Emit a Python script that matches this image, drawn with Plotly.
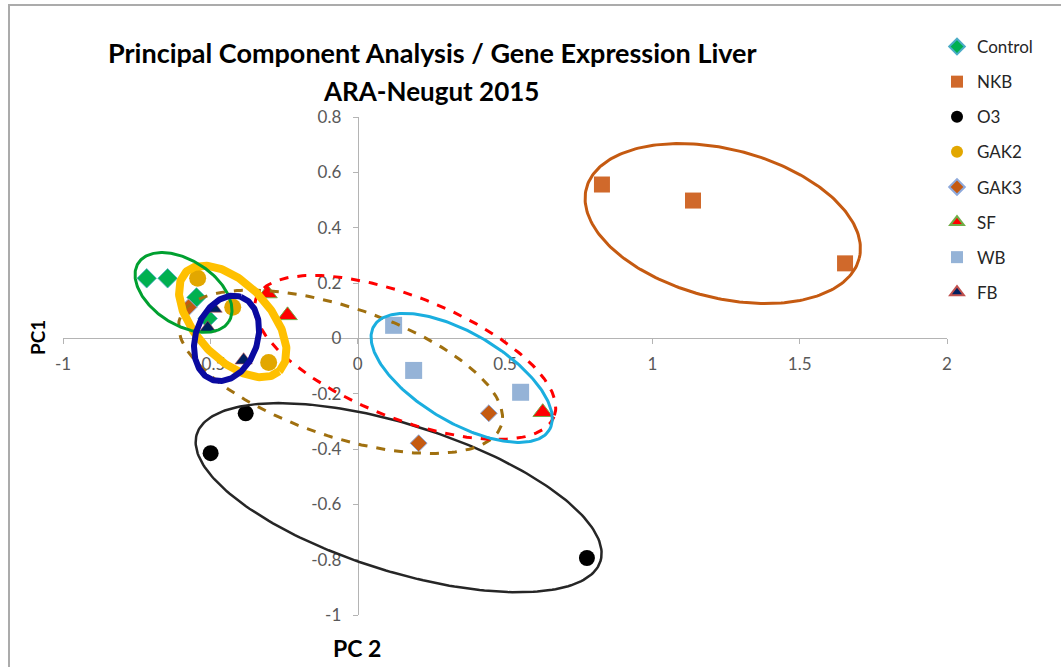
import numpy as np
import plotly.graph_objects as go

# ---------------- data ----------------
series_names = ["Control", "NKB", "O3", "GAK2", "GAK3", "SF", "WB", "FB"]

control_pc2 = [-0.716, -0.645, -0.547, -0.509]
control_pc1 = [0.217, 0.217, 0.148, 0.072]
nkb_pc2 = [0.829, 1.138, 1.654]
nkb_pc1 = [0.556, 0.498, 0.271]
o3_pc2 = [-0.499, -0.380, 0.778]
o3_pc1 = [-0.415, -0.271, -0.794]
gak2_pc2 = [-0.543, -0.424, -0.302]
gak2_pc1 = [0.217, 0.112, -0.087]
gak3_pc2 = [-0.574, 0.445, 0.207]
gak3_pc1 = [0.112, -0.271, -0.379]
sf_pc2 = [-0.306, -0.238, 0.628]
sf_pc1 = [0.162, 0.083, -0.267]
wb_pc2 = [0.122, 0.190, 0.553]
wb_pc1 = [0.047, -0.116, -0.195]
fb_pc2 = [-0.489, -0.509, -0.387]
fb_pc1 = [0.108, 0.036, -0.079]

x_tick_vals = [-1, -0.5, 0, 0.5, 1, 1.5, 2]
x_tick_text = ["-1", "-0.5", "0", "0.5", "1", "1.5", "2"]
y_tick_vals = [0.8, 0.6, 0.4, 0.2, 0, -0.2, -0.4, -0.6, -0.8, -1]
y_tick_text = ["0.8", "0.6", "0.4", "0.2", "0", "-0.2", "-0.4", "-0.6", "-0.8", "-1"]

# hand-drawn cluster ellipses (centre in data units, semi-axes in x-axis units, tilt in degrees)
ellipse_groups = ["NKB", "O3", "GAK3", "SF", "WB", "GAK2", "Control", "FB"]
ellipse_cx = [1.239, 0.139, -0.058, 0.161, 0.353, -0.424, -0.591, -0.445]
ellipse_cy = [0.415, -0.576, -0.121, -0.069, -0.143, 0.061, 0.166, 0.000]
ellipse_a = [0.478, 0.718, 0.575, 0.544, 0.346, 0.231, 0.183, 0.149]
ellipse_b = [0.252, 0.249, 0.220, 0.207, 0.151, 0.126, 0.109, 0.105]
ellipse_tilt = [14.4, 17.5, 18.5, 21.7, 30.6, 47.0, 33.0, -71.0]

# ---------------- styling ----------------
OFF = 0  # page body margin (removed by post_script below)
W, H = 1061, 667
ML, MR, MT, MB = 63 - OFF, 114 + OFF, 117 - OFF, 52 + OFF
XR = [-1, 2]
YR = [-1, 0.8]
pw, ph = W - ML - MR, H - MT - MB
ratio = (pw / (XR[1] - XR[0])) / (ph / (YR[1] - YR[0]))

FONT = "Lato"

marker_styles = {
    "Control": dict(symbol="diamond", size=15, color="#00B050", line=dict(width=0.8, color="#4BACC6")),
    "NKB": dict(symbol="square", size=16, color="#D0692B", line=dict(width=0)),
    "O3": dict(symbol="circle", size=16, color="#000000", line=dict(width=0)),
    "GAK2": dict(symbol="circle", size=17, color="#E2A700", line=dict(width=0)),
    "GAK3": dict(symbol="diamond", size=13, color="#C55A11", line=dict(width=1, color="#8EA9DB")),
    "SF": dict(symbol="triangle-up", size=17, color="#FF0000", line=dict(width=1, color="#70AD47")),
    "WB": dict(symbol="square", size=17, color="#95B3D7", line=dict(width=0)),
    "FB": dict(symbol="triangle-up", size=15, color="#002060", line=dict(width=0.6, color="#C0504D")),
}
ellipse_styles = {
    "NKB": dict(color="#C55A11", width=3, dash="solid"),
    "O3": dict(color="#262626", width=2.5, dash="solid"),
    "GAK3": dict(color="#A0700F", width=3, dash="dash"),
    "SF": dict(color="#FF0000", width=3, dash="dash"),
    "WB": dict(color="#1AAEDF", width=3, dash="solid"),
    "GAK2": dict(color="#FFC000", width=8, dash="solid"),
    "Control": dict(color="#00A030", width=3, dash="solid"),
    "FB": dict(color="#0A0AA0", width=6, dash="solid"),
}

xs = [control_pc2, nkb_pc2, o3_pc2, gak2_pc2, gak3_pc2, sf_pc2, wb_pc2, fb_pc2]
ys = [control_pc1, nkb_pc1, o3_pc1, gak2_pc1, gak3_pc1, sf_pc1, wb_pc1, fb_pc1]

fig = go.Figure()
for name, x, y in zip(series_names, xs, ys):
    fig.add_trace(go.Scatter(x=x, y=y, mode="markers", name=name, legendgroup=name,
                             marker=marker_styles[name]))

t = np.linspace(0, 2 * np.pi, 240)
for g, cx, cy, a, b, tilt in zip(ellipse_groups, ellipse_cx, ellipse_cy, ellipse_a, ellipse_b, ellipse_tilt):
    th = np.deg2rad(tilt)
    dx = a * np.cos(t) * np.cos(th) - b * np.sin(t) * np.sin(th)
    dy = a * np.cos(t) * np.sin(th) + b * np.sin(t) * np.cos(th)
    fig.add_trace(go.Scatter(x=cx + dx, y=cy - dy * ratio, mode="lines", showlegend=False,
                             hoverinfo="skip", line=ellipse_styles[g]))

# helpers: page pixel -> paper fraction
def px_to_paper_x(p):
    return (p - OFF - ML) / pw

def px_to_paper_y(p):
    return (H - MB - (p - OFF)) / ph

axis_common = dict(showgrid=False, zeroline=False, showline=True, linecolor="#B4B4B4", linewidth=1,
                   ticks="outside", ticklen=5, tickcolor="#B4B4B4", tickwidth=1,
                   tickfont=dict(family=FONT, size=17, color="#595959"), layer="below traces",
                   anchor="free")

fig.update_layout(
    width=W, height=H, autosize=False,
    margin=dict(l=ML, r=MR, t=MT, b=MB, pad=0),
    paper_bgcolor="white", plot_bgcolor="white",
    font=dict(family=FONT, color="#404040"),
    xaxis=dict(range=XR, tickvals=x_tick_vals, ticktext=x_tick_text, ticklabelstandoff=5,
               position=(0 - YR[0]) / (YR[1] - YR[0]), **axis_common),
    yaxis=dict(range=YR, tickvals=y_tick_vals, ticktext=y_tick_text, ticklabelstandoff=8,
               position=(0 - XR[0]) / (XR[1] - XR[0]), **axis_common),
    legend=dict(x=px_to_paper_x(937), y=px_to_paper_y(29), xanchor="left", yanchor="top",
                traceorder="grouped", tracegroupgap=10, itemsizing="constant",
                font=dict(family=FONT, size=17, color="#262626"), bgcolor="rgba(0,0,0,0)"),
    showlegend=True,
)

fig.add_annotation(text="<b>Principal Component Analysis / Gene Expression Liver</b>",
                   x=px_to_paper_x(432), y=px_to_paper_y(53), xref="paper", yref="paper",
                   showarrow=False, xanchor="center", yanchor="middle",
                   font=dict(family=FONT, size=27, color="#000000"))
fig.add_annotation(text="<b>ARA-Neugut 2015</b>",
                   x=px_to_paper_x(431), y=px_to_paper_y(91), xref="paper", yref="paper",
                   showarrow=False, xanchor="center", yanchor="middle",
                   font=dict(family=FONT, size=26, color="#000000"))
fig.add_annotation(text="<b>PC1</b>", textangle=-90,
                   x=px_to_paper_x(37), y=px_to_paper_y(338), xref="paper", yref="paper",
                   showarrow=False, xanchor="center", yanchor="middle",
                   font=dict(family=FONT, size=19, color="#000000"))
fig.add_annotation(text="<b>PC 2</b>",
                   x=px_to_paper_x(357), y=px_to_paper_y(648), xref="paper", yref="paper",
                   showarrow=False, xanchor="center", yanchor="middle",
                   font=dict(family=FONT, size=23, color="#000000"))

# chart frame
fig.add_shape(type="rect", xref="paper", yref="paper",
              x0=px_to_paper_x(9), x1=px_to_paper_x(1080),
              y0=px_to_paper_y(690), y1=px_to_paper_y(5),
              line=dict(color="#ABABAB", width=2), fillcolor="rgba(0,0,0,0)", layer="below")

fig.write_html("out.html", config={"displayModeBar": False},
               post_script="document.body.style.margin='0px';")
